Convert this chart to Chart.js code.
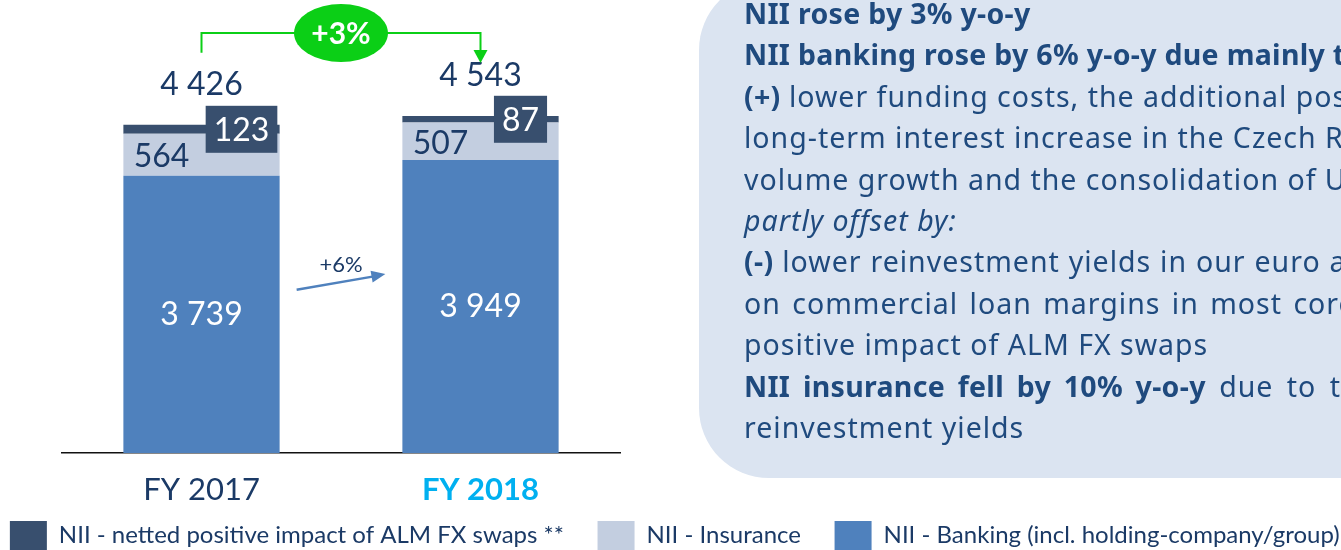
<!DOCTYPE html>
<html>
<head>
<meta charset="utf-8">
<script src="https://cdn.jsdelivr.net/npm/chart.js@4.4.1/dist/chart.umd.min.js"></script>
<style>
  html, body { margin: 0; padding: 0; background: #fff; overflow: hidden; }
  #wrap { position: relative; width: 1341px; height: 550px; overflow: hidden; }
  #niiChart { position: absolute; left: -23px; top: 0; }
  #notes {
    position: absolute; left: 699px; top: -20px; width: 760px; height: 498px;
    background: #dbe4f1; border-radius: 70px; box-sizing: border-box;
    padding: 13px 0 0 45px; overflow: hidden;
    font-family: "Noto Sans", sans-serif; font-size: 28.5px; letter-spacing: 1px; color: #1f4a7e;
  }
  #notes div { white-space: nowrap; line-height: 41.4px; height: 41.4px; }
  #notes b { font-weight: bold; letter-spacing: 0.3px; }
  .ws1 { word-spacing: 0.5px; }
  .ws3 { word-spacing: 3px; }
  .ws5 { word-spacing: 5px; }
</style>
</head>
<body>
<div id="wrap">
  <canvas id="niiChart" width="1420" height="550"></canvas>
  <div id="notes">
    <div><b>NII rose by 3% y-o-y</b></div>
    <div><b>NII banking rose by 6% y-o-y due mainly to:</b></div>
    <div><b>(+)</b> lower funding costs, the additional positive</div>
    <div>long-term interest increase in the Czech Republic</div>
    <div>volume growth and the consolidation of UBB</div>
    <div><i>partly offset by:</i></div>
    <div class="ws1"><b>(-)</b> lower reinvestment yields in our euro area</div>
    <div class="ws3">on commercial loan margins in most core countries</div>
    <div>positive impact of ALM FX swaps</div>
    <div class="ws5"><b>NII insurance fell by 10% y-o-y</b> due to the</div>
    <div>reinvestment yields</div>
  </div>
</div>
<script>
const categories = ["FY 2017", "FY 2018"];
const banking = [3739, 3949];
const insurance = [564, 507];
const almSwaps = [123, 87];
const totals = [4426, 4543];
const totalChange = "+3%";
const bankingChange = "+6%";

const NAVY = "#1b3a66";
const BANK = "#4f81bd";
const INS = "#c3cee0";
const ALM = "#384f6e";
const GREEN = "#0bcf16";

const fmt = (v) => String(v).replace(/\B(?=(\d{3})+(?!\d))/g, " ");

function arrowHead(ctx, x1, y1, x2, y2, len, half) {
  const a = Math.atan2(y2 - y1, x2 - x1);
  ctx.beginPath();
  ctx.moveTo(x2, y2);
  ctx.lineTo(x2 - len * Math.cos(a) + half * Math.sin(a), y2 - len * Math.sin(a) - half * Math.cos(a));
  ctx.lineTo(x2 - len * Math.cos(a) - half * Math.sin(a), y2 - len * Math.sin(a) + half * Math.cos(a));
  ctx.closePath();
  ctx.fill();
}

const labelPlugin = {
  id: "labels",
  afterDatasetsDraw(chart) {
    const ctx = chart.ctx;
    const y = chart.scales.y;
    const bank = chart.getDatasetMeta(0).data;
    const ins = chart.getDatasetMeta(1).data;
    const alm = chart.getDatasetMeta(2).data;
    ctx.save();
    ctx.textAlign = "center";
    ctx.textBaseline = "middle";
    ctx.font = "32px Lato";

    categories.forEach((c, i) => {
      const b = bank[i], s = ins[i], a = alm[i];
      // banking value inside the bar
      ctx.fillStyle = "#fff";
      ctx.fillText(fmt(banking[i]), b.x, (b.y + b.base) / 2);
      // insurance value
      ctx.fillStyle = NAVY;
      ctx.fillText(fmt(insurance[i]), b.x - 40, (s.y + s.base) / 2 + 2);
      // ALM swaps value in a dark box
      const tw = ctx.measureText(fmt(almSwaps[i])).width;
      const bw = tw + 16, bh = 47;
      const cy = (a.y + a.base) / 2;
      ctx.fillStyle = ALM;
      ctx.fillRect(b.x + 40 - bw / 2, cy - bh / 2, bw, bh);
      ctx.fillStyle = "#fff";
      ctx.fillText(fmt(almSwaps[i]), b.x + 40, cy + 1);
      // total
      ctx.fillStyle = NAVY;
      ctx.fillText(fmt(totals[i]), b.x, y.getPixelForValue(totals[i]) - 40);
    });

    // green bracket for the total change
    const x0 = bank[0].x, x1 = bank[1].x;
    const top = y.getPixelForValue(Math.max(...totals)) - 83;
    const leftEnd = y.getPixelForValue(totals[0]) - 72;
    const tip = y.getPixelForValue(totals[1]) - 53;
    ctx.strokeStyle = GREEN;
    ctx.fillStyle = GREEN;
    ctx.lineWidth = 2;
    ctx.beginPath();
    ctx.moveTo(x0, leftEnd);
    ctx.lineTo(x0, top);
    ctx.lineTo(x1, top);
    ctx.lineTo(x1, tip - 12);
    ctx.stroke();
    arrowHead(ctx, x1, top, x1, tip, 13, 7);
    ctx.beginPath();
    ctx.ellipse((x0 + x1) / 2, top, 47, 29, 0, 0, Math.PI * 2);
    ctx.fill();
    ctx.fillStyle = "#fff";
    ctx.font = "bold 30px Lato";
    ctx.fillText(totalChange, (x0 + x1) / 2, top + 1);

    // banking change arrow
    const bw0 = bank[0].width / 2;
    const ax1 = bank[0].x + bw0 + 17, ay1 = bank[0].y + 114;
    const ax2 = bank[1].x - bw0 - 17, ay2 = bank[1].y + 114;
    ctx.strokeStyle = BANK;
    ctx.fillStyle = BANK;
    ctx.lineWidth = 2.5;
    ctx.beginPath();
    ctx.moveTo(ax1, ay1);
    ctx.lineTo(ax2 - 10, ay2 + 2);
    ctx.stroke();
    arrowHead(ctx, ax1, ay1, ax2, ay2, 14, 6);
    ctx.fillStyle = NAVY;
    ctx.font = "22px Lato";
    ctx.fillText(bankingChange, (ax1 + ax2) / 2, (ay1 + ay2) / 2 - 17);
    ctx.restore();
  },
};

const hiddenAxis = (w, pos) => ({
  position: pos,
  display: true,
  grid: { display: false },
  border: { display: false },
  ticks: { display: false },
  afterFit: (s) => { s.width = w; },
});

new Chart(document.getElementById("niiChart").getContext("2d"), {
  type: "bar",
  data: {
    labels: categories,
    datasets: [
      { label: "NII - Banking (incl. holding-company/group)", data: banking, backgroundColor: BANK },
      { label: "NII - Insurance", data: insurance, backgroundColor: INS },
      { label: "NII - netted positive impact of ALM FX swaps **", data: almSwaps, backgroundColor: ALM },
    ],
  },
  options: {
    responsive: false,
    animation: false,
    events: [],
    layout: { padding: { left: 0, right: 0, top: 8, bottom: -10 } },
    datasets: { bar: { categoryPercentage: 1, barPercentage: 0.56 } },
    plugins: {
      tooltip: { enabled: false },
      legend: {
        position: "bottom",
        reverse: true,
        labels: {
          boxWidth: 37,
          boxHeight: 29,
          padding: 9,
          color: NAVY,
          font: { family: "Lato", size: 24 },
          // extra room between items without growing the legend height
          generateLabels: (chart) =>
            Chart.defaults.plugins.legend.labels.generateLabels(chart).map((l) => ({ ...l, text: l.text + "    " })),
        },
      },
    },
    scales: {
      x: {
        stacked: true,
        grid: { display: false, drawTicks: false },
        border: { display: true, color: "#111", width: 1.5 },
        ticks: {
          padding: 18,
          color: (c) => (c.index === 1 ? "#00b0f0" : NAVY),
          font: (c) => ({ family: "Lato", size: 31, weight: c.index === 1 ? "bold" : "normal" }),
        },
        afterFit: (s) => { s.height = 59; },
      },
      y: Object.assign(hiddenAxis(85, "left"), { stacked: true, min: 0, max: 6000 }),
      y2: Object.assign(hiddenAxis(777, "right"), { min: 0, max: 6000 }),
    },
  },
  plugins: [labelPlugin],
});
</script>
</body>
</html>
